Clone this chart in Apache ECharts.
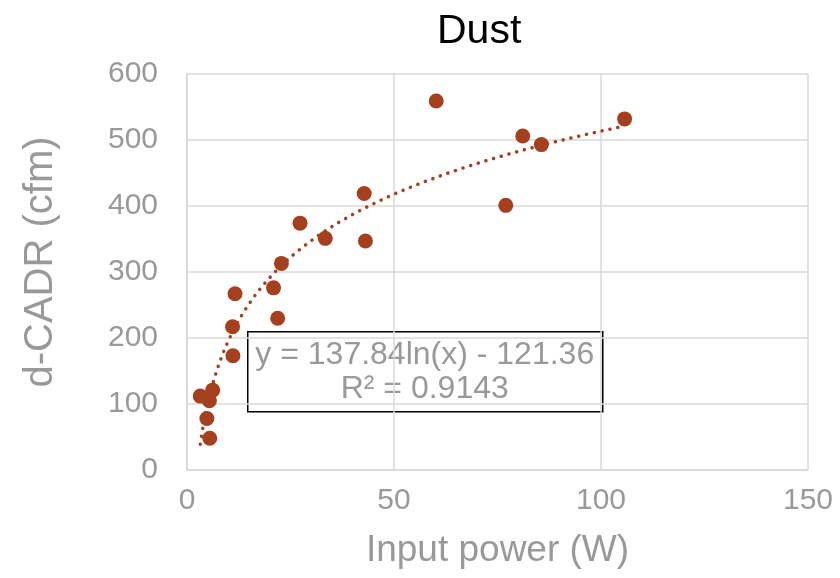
<!DOCTYPE html>
<html>
<head>
<meta charset="utf-8">
<script src="https://cdn.jsdelivr.net/npm/echarts@6/dist/echarts.min.js"></script>
<style>
html,body{margin:0;padding:0;background:#fff;}
#chart{width:840px;height:578px;}
</style>
</head>
<body>
<div id="chart"></div>
<script>
// Data
var powerW = [60.2, 105.7, 81.1, 85.6, 77.0, 42.8, 27.3, 33.4, 43.1, 22.8, 11.6, 20.9, 21.9, 11.0, 11.1, 6.2, 3.2, 5.4, 4.8, 5.5];
var cadr   = [559, 532, 506, 493, 401, 419, 374, 351, 347, 313, 267, 276, 230, 217, 173, 121, 112, 105, 78, 48];
var xTicks = [0, 50, 100, 150];
var yTicks = [0, 100, 200, 300, 400, 500, 600];
// Logarithmic trendline coefficients shown on the chart
var trendA = 137.84;
var trendB = -121.36;
var trendLabel = ['y = 137.84ln(x) - 121.36', 'R\u00b2 = 0.9143'];

var points = powerW.map(function (x, i) { return [x, cadr[i]]; });
var xMin = Math.min.apply(null, powerW), xMax = Math.max.apply(null, powerW);
var trend = [];
var steps = 200;
for (var k = 0; k <= steps; k++) {
  var x = xMin + (xMax - xMin) * k / steps;
  trend.push([x, trendA * Math.log(x) + trendB]);
}

var gray = '#999999';
var gridColor = '#d9d9d9';
var markColor = '#A5401E';
var font = '"Liberation Sans", Arial, sans-serif';

var chart = echarts.init(document.getElementById('chart'), null, {renderer: 'canvas'});
chart.setOption({
  animation: false,
  title: {
    text: 'Dust', left: 432, top: 6,
    textStyle: {fontFamily: font, fontSize: 41, fontWeight: 'normal', color: '#000'}
  },
  grid: {left: 187, right: 32, top: 74, bottom: 108},
  xAxis: {
    type: 'value', min: xTicks[0], max: xTicks[xTicks.length - 1], interval: 50,
    name: 'Input power (W)', nameLocation: 'middle', nameGap: 62,
    nameTextStyle: {fontFamily: font, fontSize: 37, color: gray},
    axisLine: {show: true, lineStyle: {color: gridColor, width: 1.5}},
    axisTick: {show: false},
    axisLabel: {fontFamily: font, fontSize: 30, color: gray, margin: 16},
    splitLine: {show: true, lineStyle: {color: gridColor, width: 1.5}}
  },
  yAxis: {
    type: 'value', min: yTicks[0], max: yTicks[yTicks.length - 1], interval: 100,
    axisLine: {show: true, lineStyle: {color: gridColor, width: 1.5}},
    axisTick: {show: false},
    axisLabel: {fontFamily: font, fontSize: 30, color: gray, margin: 29},
    splitLine: {show: true, lineStyle: {color: gridColor, width: 1.5}}
  },
  series: [
    {
      type: 'line', data: trend, showSymbol: false, symbol: 'none', smooth: false,
      lineStyle: {color: markColor, width: 3.5, type: [0.1, 7.9], cap: 'round'},
      z: 2, silent: true
    },
    {
      type: 'scatter', data: points, symbol: 'circle', symbolSize: 15,
      itemStyle: {color: markColor, opacity: 1},
      z: 3
    }
  ],
  graphic: [
    {
      type: 'text', x: 41, y: 262, rotation: Math.PI / 2,
      style: {text: 'd-CADR (cfm)', font: '40px ' + font, fill: gray, textAlign: 'center', textVerticalAlign: 'middle'}
    },
    {
      type: 'group', left: 247, top: 331, z: 100,
      children: [
        {type: 'rect', shape: {x: 0, y: 0, width: 355, height: 80},
         style: {fill: '#fff', stroke: '#000', lineWidth: 1.5}},
        {type: 'text', x: 177, y: 23,
         style: {text: trendLabel[0], font: '32px ' + font, fill: gray, textAlign: 'center', textVerticalAlign: 'middle'}},
        {type: 'text', x: 177, y: 57,
         style: {text: trendLabel[1], font: '32px ' + font, fill: gray, textAlign: 'center', textVerticalAlign: 'middle'}}
      ]
    }
  ]
});
</script>
</body>
</html>
